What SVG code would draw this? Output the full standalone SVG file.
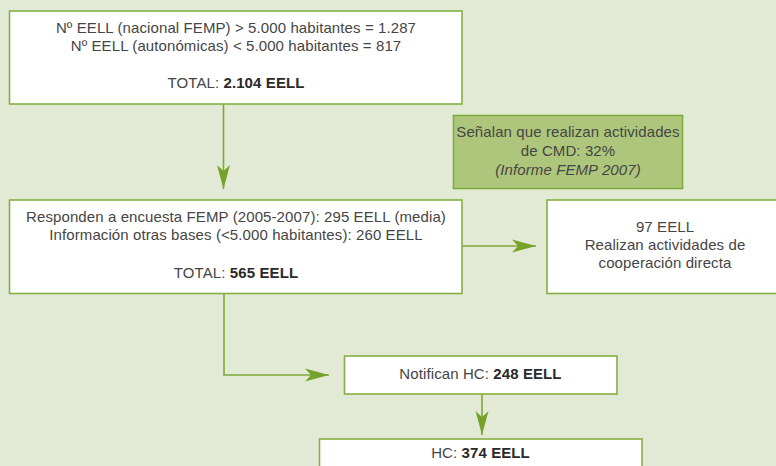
<svg xmlns="http://www.w3.org/2000/svg" width="776" height="466" viewBox="0 0 776 466">
<defs>
<style>
.bg{fill:#e2ead6}
.box{fill:#ffffff;stroke:#86b042;stroke-width:1.6}
.gbox{fill:#aec57c;stroke:#80aa3c;stroke-width:1.6}
.t{font-family:"Liberation Sans",Arial,sans-serif;font-size:15px;letter-spacing:0.1px;fill:#454545;text-anchor:middle}
.b{font-weight:bold;fill:#2a2a2a}
.i{font-style:italic}
.c{fill:none;stroke:#7ca83a;stroke-width:1.6}
</style>
<marker id="ah" viewBox="0 0 24 14" refX="24" refY="7" markerWidth="24" markerHeight="14" markerUnits="userSpaceOnUse" orient="auto">
<path d="M24,7 L0,0.5 L6,7 L0,13.5 Z" fill="#76a22a"/>
</marker>
</defs>
<rect class="bg" x="0" y="0" width="776" height="466"/>
<g id="connectors">
<path class="c" d="M223.5,104 V189" marker-end="url(#ah)"/>
<path class="c" d="M462,246 H536" marker-end="url(#ah)"/>
<path class="c" d="M224,294 V375 H329" marker-end="url(#ah)"/>
<path class="c" d="M482,394 V435" marker-end="url(#ah)"/>
</g>
<g id="n1">
<rect class="box" x="9.5" y="11" width="452.5" height="93"/>
<text class="t" x="236" y="33">Nº EELL (nacional FEMP) &gt; 5.000 habitantes = 1.287</text>
<text class="t" x="236" y="51">Nº EELL (autonómicas) &lt; 5.000 habitantes = 817</text>
<text class="t" x="236" y="88">TOTAL: <tspan class="b">2.104 EELL</tspan></text>
</g>
<g id="n2">
<rect class="gbox" x="453.5" y="115.5" width="229" height="73"/>
<text class="t" x="568" y="137">Señalan que realizan actividades</text>
<text class="t" x="568" y="156">de CMD: 32%</text>
<text class="t i" x="568" y="175">(Informe FEMP 2007)</text>
</g>
<g id="n3">
<rect class="box" x="9.5" y="200" width="452.5" height="93.5"/>
<text class="t" x="236" y="222">Responden a encuesta FEMP (2005-2007): 295 EELL (media)</text>
<text class="t" x="236" y="240">Información otras bases (&lt;5.000 habitantes): 260 EELL</text>
<text class="t" x="236" y="278">TOTAL: <tspan class="b">565 EELL</tspan></text>
</g>
<g id="n4">
<rect class="box" x="547" y="200" width="240" height="93.5"/>
<text class="t" x="665" y="232">97 EELL</text>
<text class="t" x="665" y="250">Realizan actividades de</text>
<text class="t" x="665" y="268">cooperación directa</text>
</g>
<g id="n5">
<rect class="box" x="344.5" y="356" width="272.5" height="38"/>
<text class="t" x="480.5" y="379">Notifican HC: <tspan class="b">248 EELL</tspan></text>
</g>
<g id="n6">
<rect class="box" x="319.5" y="439" width="322.5" height="40"/>
<text class="t" x="480.5" y="458">HC: <tspan class="b">374 EELL</tspan></text>
</g>
</svg>
